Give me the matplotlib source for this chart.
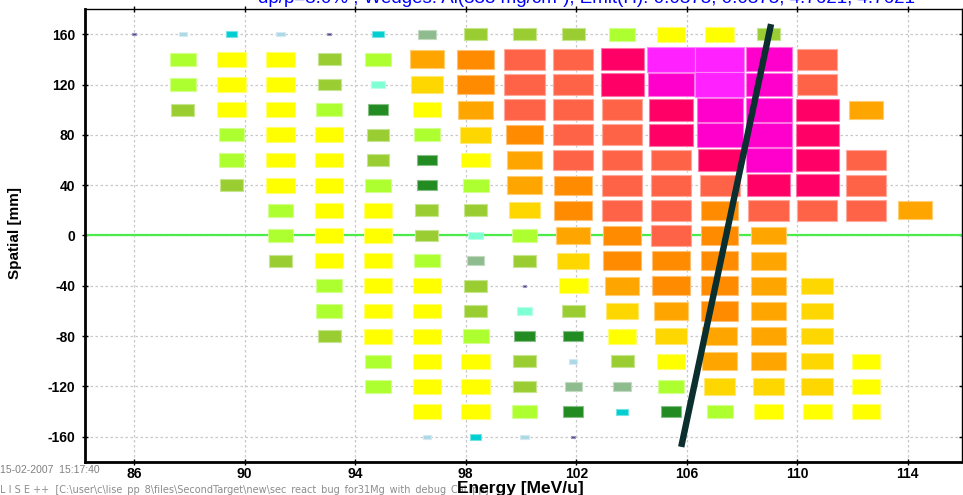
import matplotlib.pyplot as plt
from matplotlib.patches import Rectangle
from matplotlib.colors import to_rgb

plt.rcParams['axes.unicode_minus'] = False

# centres des bins
energy = [86.0, 87.77, 89.53, 91.3, 93.06, 94.83, 96.6, 98.36, 100.13,
          101.89, 103.66, 105.43, 107.19, 108.96, 110.72, 112.49, 114.26]
spatial = [160, 140, 120, 100, 80, 60, 40, 20, 0,
           -20, -40, -60, -80, -100, -120, -140, -160]

# niveau de contenu de chaque cellule (0 = vide)
level = [
    [1, 2, 3, 2, 1, 3, 5, 7, 7, 7, 8, 9, 9, 7, 0, 0, 0],
    [0, 8, 9, 9, 7, 8, 11, 12, 13, 13, 14, 16, 16, 15, 13, 0, 0],
    [0, 8, 9, 9, 7, 4, 10, 12, 13, 13, 14, 15, 16, 15, 13, 0, 0],
    [0, 7, 9, 9, 8, 6, 9, 11, 13, 13, 13, 14, 15, 15, 14, 11, 0],
    [0, 0, 8, 9, 9, 7, 8, 10, 12, 13, 13, 14, 15, 15, 14, 0, 0],
    [0, 0, 8, 9, 9, 7, 6, 9, 11, 13, 13, 13, 14, 15, 14, 13, 0],
    [0, 0, 7, 9, 9, 8, 6, 8, 11, 12, 13, 13, 13, 14, 14, 13, 0],
    [0, 0, 0, 8, 9, 9, 7, 7, 10, 12, 13, 13, 12, 13, 13, 13, 11],
    [0, 0, 0, 8, 9, 9, 7, 4, 8, 11, 12, 13, 12, 11, 0, 0, 0],
    [0, 0, 0, 7, 9, 9, 8, 5, 7, 10, 12, 12, 12, 11, 0, 0, 0],
    [0, 0, 0, 0, 8, 9, 9, 7, 1, 9, 11, 12, 12, 11, 10, 0, 0],
    [0, 0, 0, 0, 8, 9, 9, 7, 4, 7, 10, 11, 12, 11, 10, 0, 0],
    [0, 0, 0, 0, 7, 9, 9, 8, 6, 6, 9, 10, 11, 11, 10, 0, 0],
    [0, 0, 0, 0, 0, 8, 9, 9, 7, 2, 7, 9, 11, 11, 10, 9, 0],
    [0, 0, 0, 0, 0, 8, 9, 9, 7, 5, 5, 8, 10, 10, 10, 9, 0],
    [0, 0, 0, 0, 0, 0, 9, 9, 8, 6, 3, 6, 8, 9, 9, 9, 0],
    [0, 0, 0, 0, 0, 0, 2, 3, 2, 1, 0, 0, 0, 0, 0, 0, 0],
]

# ligne dispersive
line_energy = [105.8, 109.05]
line_spatial = [-168, 168]

palette = ['#483D8B', '#ADD8E6', '#00CED1', '#7FFFD4', '#8FBC8F', '#228B22',
           '#9ACD32', '#ADFF2F', '#FFFF00', '#FFD700', '#FFA500', '#FF8C00',
           '#FF6347', '#FF0066', '#FF00CC', '#FF22FF']

bw, bh = 1.766, 20.0

fig = plt.figure(figsize=(9.63, 4.95), dpi=100)
ax = fig.add_axes([0.0883, 0.0667, 0.9107, 0.9151])
ax.set_xlim(84.23, 115.96)
ax.set_ylim(-180, 180)

for i, y in enumerate(spatial):
    for j, x in enumerate(energy):
        lv = level[i][j]
        if lv == 0:
            continue
        f = 0.07 if lv == 1 else (lv + 1) / 17
        c = to_rgb(palette[lv - 1])
        edge = tuple(0.55 * v + 0.45 for v in c)
        ax.add_patch(Rectangle((x - f * bw / 2, y - f * bh / 2), f * bw, f * bh,
                               facecolor=c, edgecolor=edge, lw=0.8, zorder=3))

ax.axhline(0, color='#4CEB4C', lw=1.6, zorder=2)
ax.plot(line_energy, line_spatial, color='#0B2E2E', lw=4.6,
        solid_capstyle='butt', zorder=5)

ax.set_xticks([86, 90, 94, 98, 102, 106, 110, 114])
ax.set_yticks([-160, -120, -80, -40, 0, 40, 80, 120, 160])
ax.grid(True, color='#C8C8C8', linestyle=(0, (2, 2)), lw=0.9, zorder=0)
ax.set_axisbelow(True)
ax.tick_params(direction='inout', length=4, width=1, top=True, right=True,
               labeltop=False, labelright=False)
ax.tick_params(axis='x', pad=1.5)
ax.tick_params(axis='y', pad=5)
for lab in ax.get_xticklabels() + ax.get_yticklabels():
    lab.set_fontfamily('Liberation Sans')
    lab.set_fontweight('bold')
    lab.set_fontsize(10)
ax.spines['left'].set_linewidth(2)
ax.spines['bottom'].set_linewidth(2)
ax.spines['top'].set_linewidth(1)
ax.spines['right'].set_linewidth(1)

fig.text(0.016, 0.53, 'Spatial [mm]', rotation=90, ha='center', va='center',
         fontsize=11, fontweight='bold', family='Liberation Sans')
fig.text(0.54, 0.014, 'Energy [MeV/u]', ha='center', va='center',
         fontsize=12.5, fontweight='bold', family='Liberation Sans', zorder=5)
fig.text(0.268, 1.004, 'dp/p=3.0% ; Wedges: Al(338 mg/cm²), Emit(Π): 0.0375, 0.0375, 4.7621, 4.7621',
         ha='left', va='center', color='#0000FF', fontsize=13.5, family='Liberation Sans')
fig.text(0.0, 0.05, '15-02-2007  15:17:40', ha='left', va='center',
         color='#808080', fontsize=7.5, family='Liberation Sans')
fig.text(0.0, 0.012, 'L I S E ++  [C:\\user\\c\\lise_pp_8\\files\\SecondTarget\\new\\sec_react_bug_for31Mg_with_debug_Cal.lpp]',
         ha='left', va='center', color='#8C8C8C', fontsize=7, family='DejaVu Sans', zorder=1)

fig.savefig('out.png', dpi=100)
